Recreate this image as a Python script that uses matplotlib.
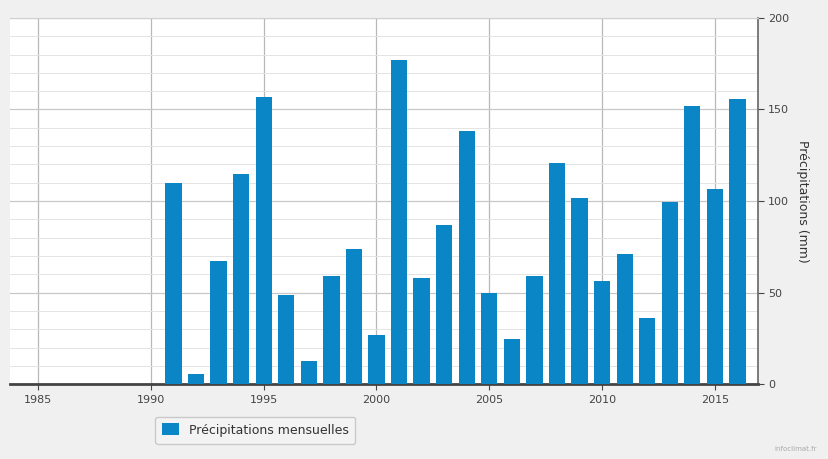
import matplotlib
matplotlib.use("Agg")
import matplotlib.pyplot as plt
from matplotlib.ticker import MultipleLocator

## données
years = list(range(1991, 2017))
precip = [110, 5.5, 67, 115, 157, 48.6, 12.7, 59, 74, 27,
          177, 58, 87, 138, 50, 24.4, 59, 120.6, 101.8, 56.5,
          70.9, 35.9, 99.6, 152, 106.4, 155.6]
year_ticks = [1985, 1990, 1995, 2000, 2005, 2010, 2015]
mm_ticks = [0, 50, 100, 150, 200]

fig = plt.figure(figsize=(8.29, 4.59), dpi=100)
fig.patch.set_facecolor('#f0f0f0')
ax = fig.add_axes([0.012, 0.163, 0.902, 0.798])
ax.set_facecolor('white')

bars = ax.bar(years, precip, width=0.72, color='#0a86c6', zorder=3,
              label='Précipitations mensuelles')

ax.set_xlim(1983.75, 2016.9)
ax.set_ylim(0, 200)
ax.set_xticks(year_ticks)
ax.set_yticks(mm_ticks)
ax.yaxis.set_minor_locator(MultipleLocator(10))
ax.yaxis.tick_right()
ax.yaxis.set_label_position('right')
ax.set_ylabel('Précipitations (mm)', rotation=270, labelpad=14,
              fontsize=9, color='#333333')

ax.grid(axis='x', color='#b8b8b8', linewidth=0.9, zorder=0)
ax.grid(axis='y', which='major', color='#c8c8c8', linewidth=0.9, zorder=0)
ax.grid(axis='y', which='minor', color='#e4e4e4', linewidth=0.7, zorder=0)

ax.tick_params(axis='both', which='major', labelsize=8, colors='#444444',
               length=4, width=0.8)
ax.tick_params(axis='y', which='minor', length=0)
ax.spines['left'].set_visible(False)
ax.spines['top'].set_color('#d0d0d0')
ax.spines['right'].set_color('#666666')
ax.spines['right'].set_linewidth(1.2)
ax.spines['bottom'].set_color('#444444')
ax.spines['bottom'].set_linewidth(2)

leg = fig.legend(loc='center', bbox_to_anchor=(0.308, 0.063), fontsize=9,
                 frameon=True, fancybox=True, edgecolor='#c0c0c0',
                 facecolor='#f4f4f4', handlelength=1.3, handleheight=1.1,
                 borderpad=0.55, borderaxespad=0)
for t in leg.get_texts():
    t.set_color('#333333')

fig.text(0.985, 0.015, 'infoclimat.fr', fontsize=5, color='#aaaaaa',
         ha='right', va='bottom')

fig.savefig('out.png', dpi=100, facecolor=fig.get_facecolor())
